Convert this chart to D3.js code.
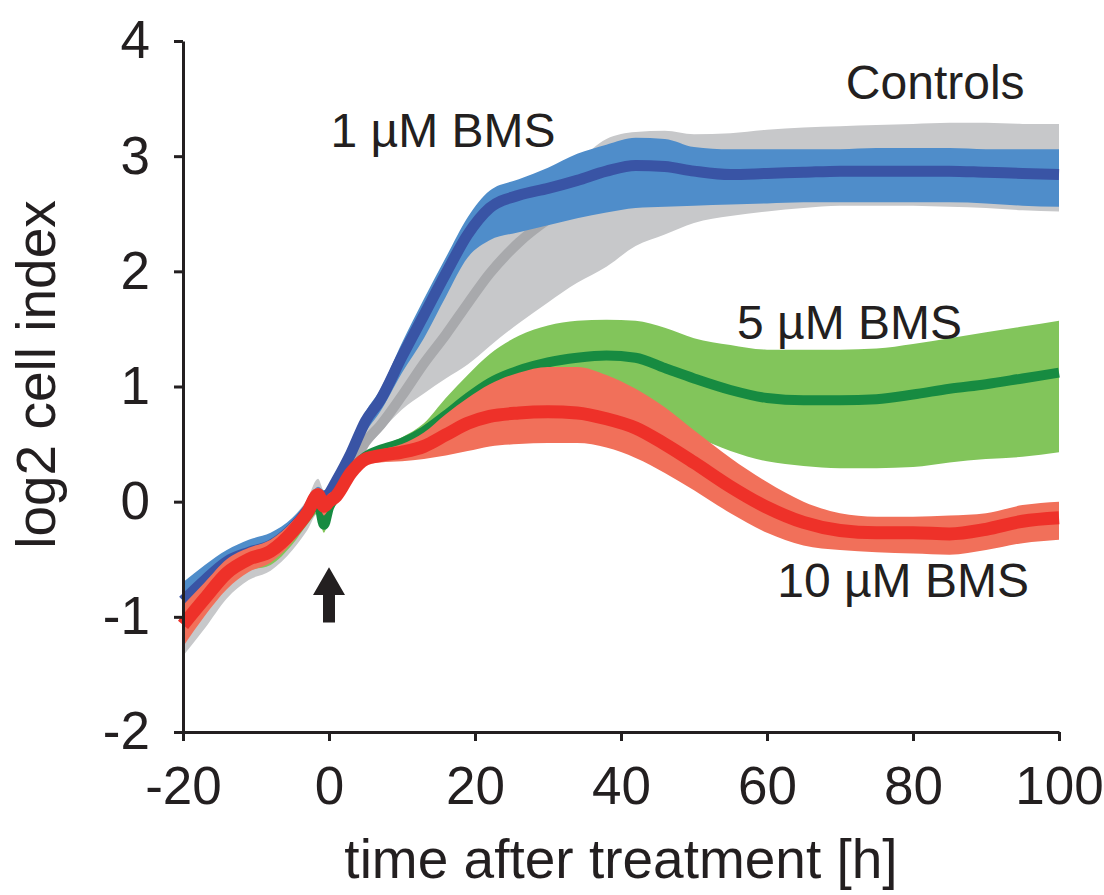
<!DOCTYPE html>
<html>
<head>
<meta charset="utf-8">
<script src="https://cdn.jsdelivr.net/npm/d3@7"></script>
<style>
	body { margin: 0; background: #fff; }
	svg text { font-family: "Liberation Sans", Arial, Helvetica, sans-serif; fill: #231f20; }
	.axis path, .axis line { stroke: #231f20; stroke-width: 3; }
</style>
</head>
<body>
<svg id="chart" width="1104" height="895"></svg>
<script>
// Data: time in hours, values in log2 cell index.
var hours = [-20, -17, -14, -11, -8, -5, -3, -1.5, -0.7, 0, 1, 3, 5, 7, 10, 13, 16, 19, 22, 26,
	30, 34, 38, 42, 46, 50, 55, 60, 65, 70, 75, 80, 85, 90, 95, 100];

var ctrlMean = [-1.05, -0.84, -0.63, -0.52, -0.45, -0.28, -0.11, 0.08, 0.00, 0.02, 0.10, 0.28, 0.52, 0.66, 0.92, 1.20, 1.45, 1.72, 1.98, 2.25,
	2.45, 2.60, 2.72, 2.80, 2.85, 2.88, 2.89, 2.90, 2.91, 2.92, 2.92, 2.92, 2.92, 2.91, 2.90, 2.90];
var ctrlHi = [-0.80, -0.60, -0.45, -0.36, -0.30, -0.14, 0.02, 0.20, 0.10, 0.10, 0.20, 0.40, 0.62, 0.80, 1.15, 1.50, 1.85, 2.15, 2.40, 2.60,
	2.76, 2.95, 3.15, 3.21, 3.22, 3.19, 3.20, 3.23, 3.25, 3.26, 3.27, 3.28, 3.29, 3.29, 3.28, 3.28];
var ctrlLo = [-1.34, -1.10, -0.84, -0.68, -0.60, -0.42, -0.25, -0.10, -0.15, -0.08, 0.00, 0.20, 0.44, 0.60, 0.80, 0.94, 1.07, 1.19, 1.35, 1.55,
	1.73, 1.90, 2.04, 2.22, 2.32, 2.42, 2.48, 2.52, 2.55, 2.57, 2.57, 2.57, 2.56, 2.55, 2.53, 2.52];

var bms1Mean = [-0.86, -0.68, -0.52, -0.44, -0.38, -0.23, -0.08, 0.06, 0.03, 0.07, 0.18, 0.42, 0.70, 0.88, 1.26, 1.62, 1.98, 2.32, 2.55, 2.66,
	2.72, 2.79, 2.87, 2.92, 2.91, 2.87, 2.84, 2.85, 2.86, 2.87, 2.87, 2.87, 2.87, 2.86, 2.85, 2.84];
var bms1Hi = [-0.70, -0.55, -0.42, -0.33, -0.27, -0.14, 0.00, 0.13, 0.10, 0.12, 0.24, 0.50, 0.78, 0.97, 1.38, 1.76, 2.12, 2.47, 2.70, 2.80,
	2.90, 3.02, 3.10, 3.16, 3.15, 3.08, 3.06, 3.06, 3.06, 3.06, 3.07, 3.07, 3.07, 3.06, 3.06, 3.06];
var bms1Lo = [-0.95, -0.78, -0.62, -0.53, -0.47, -0.32, -0.16, -0.02, -0.04, 0.00, 0.11, 0.34, 0.60, 0.78, 1.12, 1.42, 1.78, 2.12, 2.27, 2.34,
	2.40, 2.46, 2.51, 2.55, 2.56, 2.57, 2.58, 2.59, 2.60, 2.60, 2.60, 2.60, 2.60, 2.59, 2.57, 2.56];

var bms5Mean = [-1.05, -0.84, -0.62, -0.51, -0.45, -0.28, -0.12, 0.00, -0.20, -0.05, 0.05, 0.26, 0.39, 0.45, 0.51, 0.61, 0.75, 0.90, 1.03, 1.14,
	1.21, 1.25, 1.27, 1.25, 1.16, 1.07, 0.97, 0.90, 0.88, 0.88, 0.89, 0.93, 0.98, 1.02, 1.07, 1.12];
var bms5Hi = [-0.95, -0.74, -0.54, -0.43, -0.37, -0.21, -0.05, 0.06, -0.08, 0.02, 0.10, 0.30, 0.42, 0.48, 0.56, 0.68, 0.90, 1.10, 1.28, 1.44,
	1.53, 1.57, 1.58, 1.57, 1.51, 1.42, 1.36, 1.32, 1.32, 1.32, 1.33, 1.37, 1.42, 1.47, 1.52, 1.57];
var bms5Lo = [-1.15, -0.94, -0.72, -0.60, -0.55, -0.37, -0.20, -0.10, -0.27, -0.13, -0.02, 0.20, 0.34, 0.38, 0.42, 0.48, 0.55, 0.62, 0.72, 0.80,
	0.85, 0.87, 0.85, 0.78, 0.68, 0.57, 0.44, 0.35, 0.31, 0.29, 0.29, 0.30, 0.34, 0.37, 0.39, 0.43];

var bms10Mean = [-1.07, -0.84, -0.62, -0.50, -0.43, -0.26, -0.10, 0.06, -0.04, 0.00, 0.05, 0.25, 0.37, 0.40, 0.43, 0.48, 0.58, 0.68, 0.74, 0.77,
	0.78, 0.77, 0.72, 0.64, 0.50, 0.34, 0.13, -0.05, -0.18, -0.25, -0.27, -0.27, -0.28, -0.24, -0.17, -0.14];
var bms10Hi = [-0.90, -0.70, -0.50, -0.40, -0.33, -0.17, -0.02, 0.12, 0.03, 0.07, 0.11, 0.31, 0.42, 0.45, 0.50, 0.60, 0.76, 0.90, 1.02, 1.12,
	1.17, 1.17, 1.10, 0.98, 0.82, 0.62, 0.38, 0.17, 0.00, -0.10, -0.13, -0.13, -0.12, -0.10, -0.03, 0.00];
var bms10Lo = [-1.26, -0.99, -0.76, -0.61, -0.53, -0.35, -0.18, -0.01, -0.12, -0.06, -0.01, 0.19, 0.32, 0.34, 0.35, 0.37, 0.40, 0.44, 0.48, 0.50,
	0.51, 0.51, 0.47, 0.38, 0.25, 0.10, -0.10, -0.27, -0.38, -0.42, -0.44, -0.45, -0.46, -0.42, -0.36, -0.33];

var xTicks = [-20, 0, 20, 40, 60, 80, 100];
var yTicks = [-2, -1, 0, 1, 2, 3, 4];

// series in drawing order (controls at the back, 10 uM on top)
var series = [
	{ name: "Controls", mean: ctrlMean, hi: ctrlHi, lo: ctrlLo, band: "#c7c8ca", line: "#a8a9ac", width: 10 },
	{ name: "1 µM BMS", mean: bms1Mean, hi: bms1Hi, lo: bms1Lo, band: "#4f8dca", line: "#3954a5", width: 11 },
	{ name: "5 µM BMS", mean: bms5Mean, hi: bms5Hi, lo: bms5Lo, band: "#82c55b", line: "#178b41", width: 10 },
	{ name: "10 µM BMS", mean: bms10Mean, hi: bms10Hi, lo: bms10Lo, band: "#f1705a", line: "#ee3129", width: 13 }
];

// label anchors in data units (start of text, baseline)
var labels = [
	{ text: "Controls", t: 70.8, v: 3.50 },
	{ text: "1 µM BMS", t: 0.2, v: 3.08 },
	{ text: "5 µM BMS", t: 55.9, v: 1.41 },
	{ text: "10 µM BMS", t: 61.4, v: -0.83 }
];

var margin = {top: 41, right: 45, bottom: 163, left: 183},
	width = 1104 - margin.left - margin.right,
	height = 895 - margin.top - margin.bottom;

var x = d3.scaleLinear().domain([-20, 100]).range([0, width]);
var y = d3.scaleLinear().domain([-2, 4]).range([height, 0]);

var svg = d3.select("#chart")
	.append("g")
	.attr("transform", "translate(" + margin.left + "," + margin.top + ")");

series.forEach(function(s) {
	var rows = hours.map(function(h, i) {
		return { t: h, m: s.mean[i], hi: s.hi[i], lo: s.lo[i] };
	});

	var area = d3.area()
		.curve(d3.curveMonotoneX)
		.x(function(d) { return x(d.t); })
		.y0(function(d) { return y(d.lo); })
		.y1(function(d) { return y(d.hi); });

	var line = d3.line()
		.curve(d3.curveMonotoneX)
		.x(function(d) { return x(d.t); })
		.y(function(d) { return y(d.m); });

	svg.append("path")
		.datum(rows)
		.attr("fill", s.band)
		.attr("d", area);

	svg.append("path")
		.datum(rows)
		.attr("fill", "none")
		.attr("stroke", s.line)
		.attr("stroke-width", s.width)
		.attr("stroke-linejoin", "round")
		.attr("d", line);
});

// treatment arrow under t = 0
var ax = x(0), tipY = y(-0.57), headY = y(-0.81), baseY = y(-1.05);
svg.append("path")
	.attr("fill", "#231f20")
	.attr("d", "M" + ax + "," + tipY +
		"L" + (ax + 16) + "," + headY +
		"L" + (ax + 6) + "," + headY +
		"L" + (ax + 6) + "," + baseY +
		"L" + (ax - 6) + "," + baseY +
		"L" + (ax - 6) + "," + headY +
		"L" + (ax - 16) + "," + headY + "Z");

svg.selectAll(".label")
	.data(labels)
	.enter().append("text")
	.attr("class", "label")
	.attr("x", function(d) { return x(d.t); })
	.attr("y", function(d) { return y(d.v); })
	.style("font-size", "48px")
	.text(function(d) { return d.text; });

// axes, plain hyphen for negatives like the original
var plain = function(d) { return String(d); };
var xAxis = d3.axisBottom(x).tickValues(xTicks).tickFormat(plain).tickSizeInner(9).tickSizeOuter(0).tickPadding(25);
var yAxis = d3.axisLeft(y).tickValues(yTicks).tickFormat(plain).tickSizeInner(9).tickSizeOuter(0).tickPadding(24);

svg.append("g")
	.attr("class", "x axis")
	.attr("transform", "translate(0," + height + ")")
	.call(xAxis)
	.selectAll("text").style("font-size", "53px");

svg.append("g")
	.attr("class", "y axis")
	.call(yAxis)
	.selectAll("text").style("font-size", "53px");

svg.selectAll(".axis text").attr("fill", "#231f20");

svg.append("text")
	.attr("text-anchor", "middle")
	.attr("x", width / 2)
	.attr("y", height + 146)
	.style("font-size", "55px")
	.text("time after treatment [h]");

svg.append("text")
	.attr("text-anchor", "middle")
	.attr("transform", "translate(" + (-128) + "," + (height / 2 - 12) + ") rotate(-90)")
	.style("font-size", "55px")
	.text("log2 cell index");
</script>
</body>
</html>
